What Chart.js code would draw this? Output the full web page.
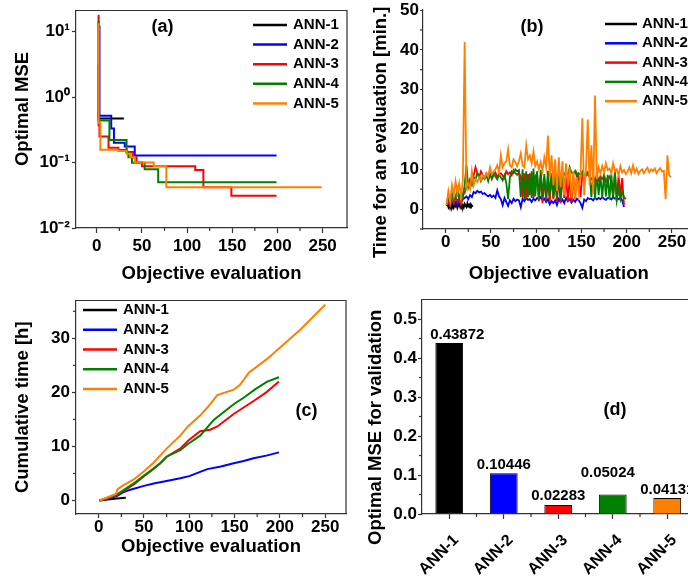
<!DOCTYPE html>
<html><head><meta charset="utf-8">
<script src="https://cdn.jsdelivr.net/npm/chart.js@4"></script>
<style>
html,body{margin:0;padding:0;background:#fff;width:688px;height:581px;overflow:hidden;position:relative}
canvas{position:absolute}
</style></head><body>
<canvas id="ca" width="348" height="290" style="left:0;top:0"></canvas>
<canvas id="cb" width="352" height="290" style="left:348px;top:0"></canvas>
<canvas id="cc" width="348" height="291" style="left:0;top:290px"></canvas>
<canvas id="cd" width="352" height="291" style="left:348px;top:290px"></canvas>
<script>
// ---------- data ----------
const seriesNames = ['ANN-1','ANN-2','ANN-3','ANN-4','ANN-5'];
const seriesColors = ['#000000','#0000ff','#ff0000','#008000','#ff8000'];

// (a) optimal MSE (best so far) : evaluation number / value
const a_x1 = [1, 2, 30];
const a_y1 = [2.9, 0.47, 0.47];
const a_x2 = [1, 3, 16, 19, 31, 42, 199];
const a_y2 = [12, 0.52, 0.33, 0.2, 0.175, 0.128, 0.128];
const a_x3 = [1, 2, 3, 13, 24, 33, 40, 44, 50, 109, 118, 149, 199];
const a_y3 = [17.5, 0.37, 0.25, 0.168, 0.155, 0.145, 0.12, 0.1, 0.088, 0.077, 0.042, 0.031, 0.031];
const a_x4 = [1, 2, 14, 33, 35, 39, 53, 68, 199];
const a_y4 = [14, 0.44, 0.22, 0.145, 0.12, 0.099, 0.079, 0.05, 0.05];
const a_x5 = [1, 2, 4, 24, 33, 37, 42, 63, 77, 249];
const a_y5 = [13, 0.4, 0.157, 0.15, 0.136, 0.12, 0.1, 0.088, 0.042, 0.042];

// (b) time per evaluation [min]; ANN-1 every evaluation from 1, others every 2nd evaluation from 1
const b_y1 = [0.8,1.2,0.5,1.4,0.3,1.0,0.6,1.3,0.4,1.1,0.7,1.5,0.3,0.9,1.2,0.5,1.4,0.6,1.0,0.4,1.3,0.8,0.5,1.5,0.7,1.1,0.4,1.2,0.9,0.6];
const b_y2 = [1.0,1.5,0.8,2.0,1.2,1.8,1.0,2.2,1.5,2.5,
  2.8,3.2,2.5,3.5,3.0,4.3,4.0,4.6,4.2,4.4,
  3.8,4.0,3.5,3.2,3.6,3.0,3.4,2.8,4.7,3.2,
  2.5,1.0,2.8,1.8,0.8,2.2,1.5,2.6,2.0,2.4,
  2.2,0.5,2.6,2.0,2.8,2.3,2.5,1.8,2.6,2.2,
  2.8,2.4,3.0,2.2,2.6,1.8,2.5,1.2,2.0,1.5,
  2.2,1.0,2.6,1.8,2.4,1.5,2.8,2.0,2.5,1.6,
  2.4,1.8,2.6,2.2,1.5,0.3,2.4,2.0,2.8,2.5,
  2.6,2.2,2.9,2.4,2.8,2.5,3.0,2.6,2.3,2.8,
  2.7,2.4,3.0,2.6,2.8,2.5,2.9,2.2,0.5];
const b_y3 = [1.2,2.0,0.8,2.5,1.5,3.0,1.8,2.8,1.2,3.5,
  4.0,5.5,6.0,7.5,6.8,8.5,10.5,9.0,8.0,9.5,
  8.5,7.8,9.0,8.2,8.8,7.5,8.5,9.2,8.0,8.8,
  9.0,8.4,7.8,9.5,8.8,9.2,8.5,9.8,9.0,8.6,
  9.2,8.0,3.0,9.0,2.5,8.8,3.5,9.5,2.8,8.2,
  9.0,2.0,8.5,1.5,8.0,2.2,7.5,1.8,8.8,2.5,
  7.0,2.0,8.5,1.5,9.0,2.8,8.2,2.0,7.8,1.6,
  8.5,2.4,9.0,8.0,3.0,8.6,7.8,8.4,9.2,8.0,
  7.5,8.2,6.8,8.5,7.2,8.0,7.6,8.4,7.0,7.8,
  8.2,6.5,3.0,9.5,2.0,8.5,3.5,7.8,1.0];
const b_y4 = [1.0,3.5,1.5,4.0,2.0,3.0,5.0,2.5,4.5,3.0,
  6.0,11.0,5.5,7.0,6.0,8.0,7.5,9.0,8.5,7.0,
  8.0,7.5,8.5,7.0,8.8,7.8,9.0,8.2,7.5,8.6,
  8.0,7.2,8.5,6.5,2.5,8.0,9.5,9.0,10.0,9.5,
  9.8,3.0,10.0,2.5,9.5,3.0,9.0,2.8,10.2,3.2,
  9.5,2.5,9.8,3.0,8.8,2.6,9.6,3.4,9.0,2.8,
  9.4,3.0,8.5,2.5,9.0,8.6,9.5,8.0,10.5,9.2,
  8.8,9.6,8.2,9.0,8.5,9.4,8.0,9.2,8.6,9.0,
  3.0,8.8,2.5,9.2,3.5,8.5,2.8,9.0,3.2,8.6,
  2.5,8.8,3.0,9.0,2.2,5.0,2.5,4.5,3.0,2.5];
const b_y5 = [1.0,4.5,2.0,6.0,3.5,7.0,4.0,6.5,3.0,7.2,
  42.0,5.5,6.5,5.0,9.5,6.0,7.5,6.8,8.0,7.2,
  8.5,7.8,9.0,8.2,10.5,8.8,9.5,10.0,11.0,9.2,
  13.5,10.5,11.5,12.0,15.0,11.0,10.5,12.5,11.8,10.8,
  12.0,14.0,11.0,10.5,16.0,12.5,13.5,11.5,14.5,10.8,
  12.0,10.0,11.8,9.5,13.0,10.5,18.5,8.0,13.5,6.0,
  12.5,4.5,13.0,5.5,12.0,3.5,11.5,6.0,10.5,3.0,
  9.5,2.5,8.0,4.0,9.0,22.8,3.5,10.0,22.5,6.0,
  16.0,4.0,28.5,7.5,10.5,9.0,10.8,9.2,11.5,9.8,
  10.2,9.0,11.5,9.5,10.0,8.5,10.8,9.2,9.8,8.8,
  9.5,10.5,9.0,11.0,9.2,10.2,8.8,9.6,10.0,9.0,
  9.8,10.4,9.2,10.0,9.5,10.2,9.0,9.8,10.3,9.4,
  9.6,2.5,13.5,8.5,8.0];

// (c) cumulative time [h]
const c_x1 = [1, 10, 20, 30];
const c_y1 = [0, 0.2, 0.35, 0.5];
const c_x2 = [1, 10, 20, 27, 35, 50, 62, 75, 90, 100, 112, 120, 135, 149, 160, 171, 185, 199];
const c_y2 = [0, 0.3, 0.8, 1.5, 2.0, 2.7, 3.2, 3.6, 4.1, 4.5, 5.3, 5.8, 6.3, 6.9, 7.3, 7.8, 8.3, 8.9];
const c_x3 = [1, 10, 20, 30, 40, 50, 60, 68, 75, 90, 99, 112, 123, 131, 149, 160, 171, 185, 199];
const c_y3 = [0, 0.4, 1.0, 2.0, 3.1, 4.5, 5.8, 6.9, 8.1, 9.6, 11.1, 12.8, 13.1, 13.7, 16.0, 17.2, 18.4, 20.0, 22.0];
const c_x4 = [1, 10, 20, 30, 40, 50, 60, 68, 75, 90, 99, 112, 127, 149, 160, 173, 186, 199];
const c_y4 = [0, 0.5, 1.1, 2.2, 3.3, 4.6, 5.8, 6.9, 8.1, 9.3, 10.5, 12.0, 14.9, 17.8, 19.0, 20.6, 22.0, 22.8];
const c_x5 = [1, 10, 19, 21, 27, 38, 50, 60, 75, 90, 99, 112, 120, 131, 149, 156, 166, 186, 223, 250];
const c_y5 = [0, 0.6, 1.2, 2.1, 2.8, 3.8, 5.4, 6.9, 9.6, 12.0, 13.8, 15.7, 17.2, 19.5, 20.5, 21.4, 23.7, 26.2, 31.7, 36.2];

// (d) optimal MSE for validation
const d_values = [0.43872, 0.10446, 0.02283, 0.05024, 0.04131];

// ticks
const evalTicks = [0, 50, 100, 150, 200, 250];
const evalMinor = [25, 75, 125, 175, 225];
const aYTicks = [0.01, 0.1, 1, 10];
const aYTickLabels = ['10\u207B\u00B2', '10\u207B\u00B9', '10\u2070', '10\u00B9'];
const bYTicks = [0, 10, 20, 30, 40, 50];
const bYMinor = [-5, 5, 15, 25, 35, 45];
const cYTicks = [0, 10, 20, 30];
const cYMinor = [5, 15, 25, 35];
const dYTicks = [0, 0.1, 0.2, 0.3, 0.4, 0.5];
const dYMinor = [0.05, 0.15, 0.25, 0.35, 0.45];
const dXMinor = [0.5, 1.5, 2.5, 3.5];

// ---------- helpers ----------
const FONT = "'Liberation Sans', Arial, Helvetica, sans-serif";
const AXIS = '#333333';
Chart.defaults.font.family = FONT;
Chart.defaults.color = '#000';

const deco = {
  id: 'deco',
  afterDraw(chart, args, o) {
    const ctx = chart.ctx, ca = chart.chartArea;
    const xs = chart.scales.x, ys = chart.scales.y;
    ctx.save();
    ctx.strokeStyle = AXIS; ctx.lineWidth = 1.2;
    if (o.frame) {
      ctx.beginPath();
      ctx.moveTo(ca.left, ca.top); ctx.lineTo(ca.right, ca.top); ctx.lineTo(ca.right, ca.bottom);
      ctx.stroke();
    }
    (o.minorX || []).forEach(v => {
      const p = xs.getPixelForValue(v);
      ctx.beginPath(); ctx.moveTo(p, ca.bottom); ctx.lineTo(p, ca.bottom + 3); ctx.stroke();
    });
    (o.minorY || []).forEach(v => {
      const p = ys.getPixelForValue(v);
      ctx.beginPath(); ctx.moveTo(ca.left, p); ctx.lineTo(ca.left - 3, p); ctx.stroke();
    });
    if (o.legend) {
      const L = o.legend;
      ctx.font = 'bold 15px ' + FONT; ctx.textBaseline = 'middle'; ctx.textAlign = 'left';
      chart.data.datasets.forEach((ds, i) => {
        const y = L.y + i * L.dy;
        ctx.strokeStyle = ds.borderColor; ctx.lineWidth = 2.5;
        ctx.beginPath(); ctx.moveTo(L.x, y); ctx.lineTo(L.x + L.len, y); ctx.stroke();
        ctx.fillStyle = '#000'; ctx.fillText(ds.label, L.x + L.len + L.gap, y);
      });
    }
    if (o.barLabels) {
      const B = o.barLabels;
      const meta = chart.getDatasetMeta(0);
      ctx.font = 'bold 15px ' + FONT; ctx.textBaseline = 'middle'; ctx.textAlign = 'center'; ctx.fillStyle = '#000';
      meta.data.forEach((bar, i) => {
        ctx.fillText(chart.data.datasets[0].data[i].toFixed(5), bar.x + B.dx[i], bar.y - B.dy[i]);
      });
    }
    if (o.label) {
      ctx.font = 'bold 18px ' + FONT; ctx.textAlign = 'center'; ctx.textBaseline = 'middle'; ctx.fillStyle = '#000';
      ctx.fillText(o.label.text, o.label.x, o.label.y);
    }
    ctx.restore();
  }
};
Chart.register(deco);

const tickFont = {size: 17, weight: 'bold', lineHeight: 1};
const titleFont = {size: 18.5, weight: 'bold'};
function setTicks(arr) { return s => { s.ticks = arr.map(v => ({value: v})); }; }
function axisGrid(tl) { return {display: true, drawOnChartArea: false, drawTicks: true, tickLength: tl, tickColor: AXIS, tickWidth: 1.2, offset: false}; }
const border = {display: true, color: AXIS, width: 1.2};

function xEval(min, max, h, tl, pad, titlePad) {
  return {
    type: 'linear', min, max, border, grid: axisGrid(tl),
    afterBuildTicks: setTicks(evalTicks),
    afterFit: s => { s.height = h; },
    ticks: {font: tickFont, padding: pad, autoSkip: false, maxRotation: 0, color: '#000', callback: v => String(v)},
    title: {display: true, text: 'Objective evaluation', font: titleFont, color: '#000', padding: {top: 0, bottom: titlePad}}
  };
}
function yAxis(cfg) {
  return Object.assign({
    border, grid: axisGrid(cfg.tl),
    afterBuildTicks: setTicks(cfg.ticks),
    afterFit: s => { s.width = cfg.w; },
    ticks: {font: tickFont, padding: cfg.pad, autoSkip: false, color: '#000', callback: cfg.cb},
    title: {display: true, text: cfg.title, font: titleFont, color: '#000', padding: {top: cfg.titlePad, bottom: 0}}
  }, cfg.extra);
}
function pts(xs, ys) { return xs.map((x, i) => ({x, y: ys[i]})); }
function evalPts(start, step, ys) { return ys.map((y, i) => ({x: start + step * i, y})); }
function lineDs(i, data, extra) {
  return Object.assign({label: seriesNames[i], data, borderColor: seriesColors[i], backgroundColor: seriesColors[i],
    borderWidth: 2, pointRadius: 0, tension: 0, fill: false, order: 4 - i}, extra || {});
}
const baseOpts = {responsive: false, animation: false, events: [], devicePixelRatio: 1};
const noPlug = {legend: {display: false}, tooltip: {enabled: false}};

// ---------- (a) ----------
new Chart(document.getElementById('ca'), {
  type: 'line',
  data: {datasets: [
    lineDs(0, pts(a_x1, a_y1), {stepped: 'before'}),
    lineDs(1, pts(a_x2, a_y2), {stepped: 'before'}),
    lineDs(2, pts(a_x3, a_y3), {stepped: 'before'}),
    lineDs(3, pts(a_x4, a_y4), {stepped: 'before'}),
    lineDs(4, pts(a_x5, a_y5), {stepped: 'before'})
  ]},
  options: Object.assign({}, baseOpts, {
    layout: {padding: {top: 8, right: 1, left: 0, bottom: 0}},
    scales: {
      x: xEval(-23, 277, 62, 5, 5, 4.9),
      y: yAxis({tl: 4, pad: 2, w: 76, ticks: aYTicks, titlePad: 11.4, title: '    Optimal MSE',
        cb: (v, i) => aYTickLabels[i], extra: {type: 'logarithmic', min: 0.01, max: 21}})
    },
    plugins: Object.assign({}, noPlug, {deco: {frame: true, minorX: evalMinor,
      legend: {x: 253, y: 25, dy: 19.6, len: 34, gap: 6},
      label: {text: '(a)', x: 162.5, y: 27.5}}})
  })
});

// ---------- (b) ----------
new Chart(document.getElementById('cb'), {
  type: 'line',
  data: {datasets: [
    lineDs(0, evalPts(1, 1, b_y1), {borderWidth: 1.8}),
    lineDs(1, evalPts(1, 2, b_y2), {borderWidth: 1.8}),
    lineDs(2, evalPts(1, 2, b_y3), {borderWidth: 1.8}),
    lineDs(3, evalPts(1, 2, b_y4), {borderWidth: 1.8}),
    lineDs(4, evalPts(1, 2, b_y5), {borderWidth: 1.8})
  ]},
  options: Object.assign({}, baseOpts, {
    layout: {padding: {top: 10, right: 5.4, left: 0, bottom: 0}},
    scales: {
      x: xEval(-25, 275, 61, 4, 0.5, 5.4),
      y: yAxis({tl: 3, pad: 1, w: 75, ticks: bYTicks, titlePad: 21.9, title: 'Time for an evaluation [min.]     ',
        cb: v => String(v), extra: {type: 'linear', min: -5, max: 50}})
    },
    plugins: Object.assign({}, noPlug, {deco: {frame: false, minorX: evalMinor, minorY: bYMinor,
      legend: {x: 257, y: 24, dy: 19.3, len: 32, gap: 5},
      label: {text: '(b)', x: 184, y: 27.5}}})
  })
});

// ---------- (c) ----------
new Chart(document.getElementById('cc'), {
  type: 'line',
  data: {datasets: [
    lineDs(0, pts(c_x1, c_y1)),
    lineDs(1, pts(c_x2, c_y2)),
    lineDs(2, pts(c_x3, c_y3)),
    lineDs(3, pts(c_x4, c_y4)),
    lineDs(4, pts(c_x5, c_y5))
  ]},
  options: Object.assign({}, baseOpts, {
    layout: {padding: {top: 5, right: 2, left: 0, bottom: 0}},
    scales: {
      x: xEval(-25, 273, 67, 4, 1, 22.9),
      y: yAxis({tl: 4, pad: 2, w: 76, ticks: cYTicks, titlePad: 12, title: 'Cumulative time [h]',
        cb: v => String(v), extra: {type: 'linear', min: -2.5, max: 37}})
    },
    plugins: Object.assign({}, noPlug, {deco: {frame: true, minorX: evalMinor, minorY: cYMinor,
      legend: {x: 83, y: 20, dy: 19.75, len: 34, gap: 6},
      label: {text: '(c)', x: 306.5, y: 121}}})
  })
});

// ---------- (d) ----------
new Chart(document.getElementById('cd'), {
  type: 'bar',
  data: {labels: seriesNames, datasets: [{
    label: 'Optimal MSE for validation', data: d_values,
    backgroundColor: seriesColors, borderColor: '#000', borderWidth: 1,
    barPercentage: 0.51, categoryPercentage: 1
  }]},
  options: Object.assign({}, baseOpts, {
    layout: {padding: {top: 5, right: 5.5, left: 0, bottom: 0}},
    scales: {
      x: {type: 'category', border, grid: axisGrid(5), offset: true,
        afterFit: s => { s.height = 67; },
        ticks: {font: {size: 16, weight: 'bold', lineHeight: 1}, padding: 13, labelOffset: 7, autoSkip: false, minRotation: 45, maxRotation: 45, color: '#000'}},
      y: yAxis({tl: 4, pad: 1, w: 74, ticks: dYTicks, titlePad: 16.9, title: 'Optimal MSE for validation        ',
        cb: v => v.toFixed(1), extra: {type: 'linear', min: 0, max: 0.55}})
    },
    plugins: Object.assign({}, noPlug, {deco: {frame: true, minorX: dXMinor, minorY: dYMinor,
      barLabels: {dx: [8, 0, 0, -5, 0], dy: [8, 8, 9, 22, 8]},
      label: {text: '(d)', x: 267, y: 120}}})
  })
});
</script>
</body></html>
